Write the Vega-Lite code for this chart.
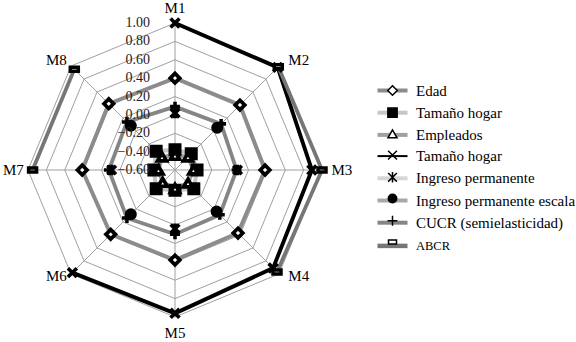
{
  "$schema": "https://vega.github.io/schema/vega-lite/v6.json",
  "width": 576,
  "height": 342,
  "autosize": {"type": "none"},
  "padding": 0,
  "config": {"view": {"stroke": null}, "font": "Liberation Serif", "text": {"font": "Liberation Serif"}},
  "datasets": {
    "series": [
      {"s": "Edad", "m": "M1", "v": 0.40}, {"s": "Edad", "m": "M2", "v": 0.40}, {"s": "Edad", "m": "M3", "v": 0.38}, {"s": "Edad", "m": "M4", "v": 0.37},
      {"s": "Edad", "m": "M5", "v": 0.38}, {"s": "Edad", "m": "M6", "v": 0.39}, {"s": "Edad", "m": "M7", "v": 0.41}, {"s": "Edad", "m": "M8", "v": 0.42},
      {"s": "Tamaño hogar", "m": "M1", "v": -0.38}, {"s": "Tamaño hogar", "m": "M2", "v": -0.35}, {"s": "Tamaño hogar", "m": "M3", "v": -0.36}, {"s": "Tamaño hogar", "m": "M4", "v": -0.31},
      {"s": "Tamaño hogar", "m": "M5", "v": -0.38}, {"s": "Tamaño hogar", "m": "M6", "v": -0.31}, {"s": "Tamaño hogar", "m": "M7", "v": -0.37}, {"s": "Tamaño hogar", "m": "M8", "v": -0.31},
      {"s": "Empleados", "m": "M1", "v": -0.44}, {"s": "Empleados", "m": "M2", "v": -0.40}, {"s": "Empleados", "m": "M3", "v": -0.40}, {"s": "Empleados", "m": "M4", "v": -0.40},
      {"s": "Empleados", "m": "M5", "v": -0.40}, {"s": "Empleados", "m": "M6", "v": -0.41}, {"s": "Empleados", "m": "M7", "v": -0.42}, {"s": "Empleados", "m": "M8", "v": -0.40},
      {"s": "Tamaño hogar ", "m": "M1", "v": 1.00}, {"s": "Tamaño hogar ", "m": "M2", "v": 0.98}, {"s": "Tamaño hogar ", "m": "M3", "v": 0.89}, {"s": "Tamaño hogar ", "m": "M4", "v": 0.91},
      {"s": "Tamaño hogar ", "m": "M5", "v": 0.96}, {"s": "Tamaño hogar ", "m": "M6", "v": 0.98}, {"s": "Tamaño hogar ", "m": "M7", "v": null}, {"s": "Tamaño hogar ", "m": "M8", "v": null},
      {"s": "Ingreso permanente", "m": "M1", "v": 0.02}, {"s": "Ingreso permanente", "m": "M2", "v": null}, {"s": "Ingreso permanente", "m": "M3", "v": 0.08}, {"s": "Ingreso permanente", "m": "M4", "v": null},
      {"s": "Ingreso permanente", "m": "M5", "v": 0.04}, {"s": "Ingreso permanente", "m": "M6", "v": null}, {"s": "Ingreso permanente", "m": "M7", "v": 0.09}, {"s": "Ingreso permanente", "m": "M8", "v": null},
      {"s": "Ingreso permanente escala", "m": "M1", "v": null}, {"s": "Ingreso permanente escala", "m": "M2", "v": 0.05}, {"s": "Ingreso permanente escala", "m": "M3", "v": null}, {"s": "Ingreso permanente escala", "m": "M4", "v": 0.04},
      {"s": "Ingreso permanente escala", "m": "M5", "v": null}, {"s": "Ingreso permanente escala", "m": "M6", "v": 0.08}, {"s": "Ingreso permanente escala", "m": "M7", "v": null}, {"s": "Ingreso permanente escala", "m": "M8", "v": 0.08},
      {"s": "CUCR (semielasticidad)", "m": "M1", "v": 0.09}, {"s": "CUCR (semielasticidad)", "m": "M2", "v": 0.11}, {"s": "CUCR (semielasticidad)", "m": "M3", "v": 0.07}, {"s": "CUCR (semielasticidad)", "m": "M4", "v": 0.09},
      {"s": "CUCR (semielasticidad)", "m": "M5", "v": 0.10}, {"s": "CUCR (semielasticidad)", "m": "M6", "v": 0.14}, {"s": "CUCR (semielasticidad)", "m": "M7", "v": 0.12}, {"s": "CUCR (semielasticidad)", "m": "M8", "v": 0.14},
      {"s": "ABCR", "m": "M1", "v": null}, {"s": "ABCR", "m": "M2", "v": 0.99}, {"s": "ABCR", "m": "M3", "v": 1.00}, {"s": "ABCR", "m": "M4", "v": 0.97},
      {"s": "ABCR", "m": "M5", "v": null}, {"s": "ABCR", "m": "M6", "v": null}, {"s": "ABCR", "m": "M7", "v": 0.95}, {"s": "ABCR", "m": "M8", "v": 0.95}
    ],
    "rings": [
      {"lvl": -0.4, "k": [0, 1, 2, 3, 4, 5, 6, 7]},
      {"lvl": -0.2, "k": [0, 1, 2, 3, 4, 5, 6, 7]},
      {"lvl": 0.0, "k": [0, 1, 2, 3, 4, 5, 6, 7]},
      {"lvl": 0.2, "k": [0, 1, 2, 3, 4, 5, 6, 7]},
      {"lvl": 0.4, "k": [0, 1, 2, 3, 4, 5, 6, 7]},
      {"lvl": 0.6, "k": [0, 1, 2, 3, 4, 5, 6, 7]},
      {"lvl": 0.8, "k": [0, 1, 2, 3, 4, 5, 6, 7]},
      {"lvl": 1.0, "k": [0, 1, 2, 3, 4, 5, 6, 7]}
    ],
    "ticks": [{"lvl": -0.6}, {"lvl": -0.4}, {"lvl": -0.2}, {"lvl": 0.0}, {"lvl": 0.2}, {"lvl": 0.4}, {"lvl": 0.6}, {"lvl": 0.8}, {"lvl": 1.0}],
    "axes": [{"m": "M1"}, {"m": "M2"}, {"m": "M3"}, {"m": "M4"}, {"m": "M5"}, {"m": "M6"}, {"m": "M7"}, {"m": "M8"}]
  },
  "layer": [
    {
      "data": {"name": "rings"},
      "transform": [
        {"flatten": ["k"]},
        {"calculate": "(datum.lvl + 0.6) / 1.6", "as": "r"},
        {"calculate": "datum.r * sin(datum.k * PI / 4)", "as": "x"},
        {"calculate": "datum.r * cos(datum.k * PI / 4)", "as": "y"}
      ],
      "mark": {"type": "line", "interpolate": "linear-closed", "stroke": "#a0a0a0", "strokeWidth": 1},
      "encoding": {
        "x": {"field": "x", "type": "quantitative", "scale": {"domain": [-1.1905, 2.7279], "nice": false, "zero": false}, "axis": null},
        "y": {"field": "y", "type": "quantitative", "scale": {"domain": [-1.1701, 1.1565], "nice": false, "zero": false}, "axis": null},
        "detail": {"field": "lvl", "type": "nominal"},
        "order": {"field": "k", "type": "quantitative"}
      }
    },
    {
      "data": {"name": "axes"},
      "transform": [
        {"calculate": "toNumber(substring(datum.m, 1)) - 1", "as": "k"},
        {"calculate": "0", "as": "o"},
        {"calculate": "sin(datum.k * PI / 4)", "as": "ex"},
        {"calculate": "cos(datum.k * PI / 4)", "as": "ey"}
      ],
      "mark": {"type": "rule", "stroke": "#a0a0a0", "strokeWidth": 1},
      "encoding": {
        "x": {"field": "o", "type": "quantitative", "scale": {"domain": [-1.1905, 2.7279], "nice": false, "zero": false}, "axis": null},
        "y": {"field": "o", "type": "quantitative", "scale": {"domain": [-1.1701, 1.1565], "nice": false, "zero": false}, "axis": null},
        "x2": {"field": "ex"},
        "y2": {"field": "ey"}
      }
    },
    {
      "data": {"name": "series"},
      "transform": [
        {"filter": {"field": "s", "oneOf": ["Edad", "Tamaño hogar", "Empleados", "CUCR (semielasticidad)"]}},
        {"calculate": "toNumber(substring(datum.m, 1)) - 1", "as": "k"},
        {"calculate": "(datum.v + 0.6) / 1.6 * sin(datum.k * PI / 4)", "as": "x"},
        {"calculate": "(datum.v + 0.6) / 1.6 * cos(datum.k * PI / 4)", "as": "y"}
      ],
      "mark": {"type": "line", "interpolate": "linear-closed"},
      "encoding": {
        "x": {"field": "x", "type": "quantitative", "scale": {"domain": [-1.1905, 2.7279], "nice": false, "zero": false}, "axis": null},
        "y": {"field": "y", "type": "quantitative", "scale": {"domain": [-1.1701, 1.1565], "nice": false, "zero": false}, "axis": null},
        "order": {"field": "k", "type": "quantitative"},
        "color": {
          "field": "s", "type": "nominal",
          "scale": {"domain": ["Edad", "Tamaño hogar", "Empleados", "Tamaño hogar ", "Ingreso permanente", "Ingreso permanente escala", "CUCR (semielasticidad)", "ABCR"],
                    "range": ["#8c8c8c", "#c6c6c6", "#a0a0a0", "#000000", "#d6d6d6", "#a8a8a8", "#858585", "#767676"]},
          "legend": {
            "orient": "none", "legendX": 385, "legendY": 83, "title": null, "padding": 0,
            "symbolType": "M-3,0H3", "symbolSize": 100, "symbolStrokeWidth": 4, "labelOffset": 16, "rowPadding": 5.2,
            "labelFont": "Liberation Serif", "labelFontSize": 15, "labelColor": "#000000", "labelLimit": 300,
            "encode": {
              "labels": {"update": {"fontSize": {"signal": "datum.label === 'ABCR' ? 12.5 : 15"}}},
              "symbols": {"update": {"strokeWidth": {"signal": "datum.index === 3 ? 2 : datum.index === 7 ? 4.5 : 4"}}}
            }
          }
        },
        "strokeWidth": {
          "field": "s", "type": "nominal",
          "scale": {"domain": ["Edad", "Tamaño hogar", "Empleados", "Tamaño hogar ", "Ingreso permanente", "Ingreso permanente escala", "CUCR (semielasticidad)", "ABCR"],
                    "range": [4, 3.5, 3.5, 1.8, 3.5, 3.5, 4, 4.5]},
          "legend": null
        }
      }
    },
    {
      "data": {"name": "series"},
      "transform": [
        {"filter": {"field": "s", "oneOf": ["Tamaño hogar ", "Ingreso permanente", "Ingreso permanente escala", "ABCR"]}},
        {"calculate": "toNumber(substring(datum.m, 1)) - 1", "as": "k"},
        {"calculate": "datum.v == null ? null : (datum.v + 0.6) / 1.6 * sin(datum.k * PI / 4)", "as": "x"},
        {"calculate": "datum.v == null ? null : (datum.v + 0.6) / 1.6 * cos(datum.k * PI / 4)", "as": "y"}
      ],
      "mark": {"type": "line", "interpolate": "linear"},
      "encoding": {
        "x": {"field": "x", "type": "quantitative", "scale": {"domain": [-1.1905, 2.7279], "nice": false, "zero": false}, "axis": null},
        "y": {"field": "y", "type": "quantitative", "scale": {"domain": [-1.1701, 1.1565], "nice": false, "zero": false}, "axis": null},
        "order": {"field": "k", "type": "quantitative"},
        "color": {"field": "s", "type": "nominal"},
        "strokeWidth": {"field": "s", "type": "nominal", "legend": null}
      }
    },
    {
      "data": {"name": "series"},
      "transform": [
        {"filter": "datum.v != null"},
        {"calculate": "datum.s + '_m'", "as": "s2"},
        {"calculate": "toNumber(substring(datum.m, 1)) - 1", "as": "k"},
        {"calculate": "(datum.v + 0.6) / 1.6 * sin(datum.k * PI / 4)", "as": "x"},
        {"calculate": "(datum.v + 0.6) / 1.6 * cos(datum.k * PI / 4)", "as": "y"}
      ],
      "mark": {"type": "point", "filled": true, "stroke": "#000000", "opacity": 1},
      "encoding": {
        "x": {"field": "x", "type": "quantitative", "scale": {"domain": [-1.1905, 2.7279], "nice": false, "zero": false}, "axis": null},
        "y": {"field": "y", "type": "quantitative", "scale": {"domain": [-1.1701, 1.1565], "nice": false, "zero": false}, "axis": null},
        "shape": {
          "field": "s2", "type": "nominal",
          "scale": {"domain": ["Edad_m", "Tamaño hogar_m", "Empleados_m", "Tamaño hogar _m", "Ingreso permanente_m", "Ingreso permanente escala_m", "CUCR (semielasticidad)_m", "ABCR_m"],
                    "range": ["diamond", "square", "triangle-up", "M-1,-1L1,1M-1,1L1,-1", "M-1,-1L1,1M-1,1L1,-1M0,-1.2L0,1.2", "circle", "M-1.2,0L1.2,0M0,-1.2L0,1.2", "M-1,-0.5H1V0.5H-1Z"]},
          "legend": {
            "orient": "none", "legendX": 385, "legendY": 83, "title": null, "padding": 0,
            "labelOffset": 16, "rowPadding": 5.2, "symbolStrokeColor": "#000000",
            "labelFont": "Liberation Serif", "labelFontSize": 15, "labelColor": "rgba(0,0,0,0)", "labelLimit": 300,
            "labelExpr": "' '"
          }
        },
        "fill": {
          "field": "s2", "type": "nominal",
          "scale": {"domain": ["Edad_m", "Tamaño hogar_m", "Empleados_m", "Tamaño hogar _m", "Ingreso permanente_m", "Ingreso permanente escala_m", "CUCR (semielasticidad)_m", "ABCR_m"],
                    "range": ["#ffffff", "#000000", "#ffffff", "#000000", "#333333", "#000000", "#000000", "#ffffff"]}
        },
        "size": {
          "field": "s2", "type": "nominal",
          "scale": {"domain": ["Edad_m", "Tamaño hogar_m", "Empleados_m", "Tamaño hogar _m", "Ingreso permanente_m", "Ingreso permanente escala_m", "CUCR (semielasticidad)_m", "ABCR_m"],
                    "range": [90, 64, 100, 70, 56, 72, 80, 56]}
        },
        "strokeWidth": {
          "field": "s2", "type": "nominal",
          "scale": {"domain": ["Edad_m", "Tamaño hogar_m", "Empleados_m", "Tamaño hogar _m", "Ingreso permanente_m", "Ingreso permanente escala_m", "CUCR (semielasticidad)_m", "ABCR_m"],
                    "range": [1, 1, 1, 1.5, 1.2, 1, 2, 1]}
        }
      }
    },
    {
      "data": {"name": "ticks"},
      "transform": [{"calculate": "(datum.lvl + 0.6) / 1.6", "as": "r"}, {"calculate": "0", "as": "o"}],
      "mark": {"type": "text", "align": "right", "baseline": "middle", "dx": -25, "fontSize": 14, "font": "Liberation Serif", "color": "#222222"},
      "encoding": {
        "x": {"field": "o", "type": "quantitative", "scale": {"domain": [-1.1905, 2.7279], "nice": false, "zero": false}, "axis": null},
        "y": {"field": "r", "type": "quantitative", "scale": {"domain": [-1.1701, 1.1565], "nice": false, "zero": false}, "axis": null},
        "text": {"field": "lvl", "type": "quantitative", "format": ".2f"}
      }
    },
    {
      "data": {"name": "axes"},
      "transform": [
        {"calculate": "toNumber(substring(datum.m, 1)) - 1", "as": "k"},
        {"calculate": "sin(datum.k * PI / 4)", "as": "sx"},
        {"calculate": "cos(datum.k * PI / 4)", "as": "cy"},
        {"calculate": "datum.sx + (datum.sx > 0.1 ? 0.135 : datum.sx < -0.1 ? -0.1 : 0)", "as": "lx"},
        {"calculate": "datum.cy + (abs(datum.sx) < 0.1 ? (datum.cy > 0 ? 0.105 : -0.11) : (datum.cy > 0.1 ? 0.04 : datum.cy < -0.1 ? -0.015 : 0))", "as": "ly"}
      ],
      "mark": {"type": "text", "align": "center", "baseline": "middle", "fontSize": 15, "font": "Liberation Serif", "color": "#000000"},
      "encoding": {
        "x": {"field": "lx", "type": "quantitative", "scale": {"domain": [-1.1905, 2.7279], "nice": false, "zero": false}, "axis": null},
        "y": {"field": "ly", "type": "quantitative", "scale": {"domain": [-1.1701, 1.1565], "nice": false, "zero": false}, "axis": null},
        "text": {"field": "m", "type": "nominal"}
      }
    }
  ]
}
